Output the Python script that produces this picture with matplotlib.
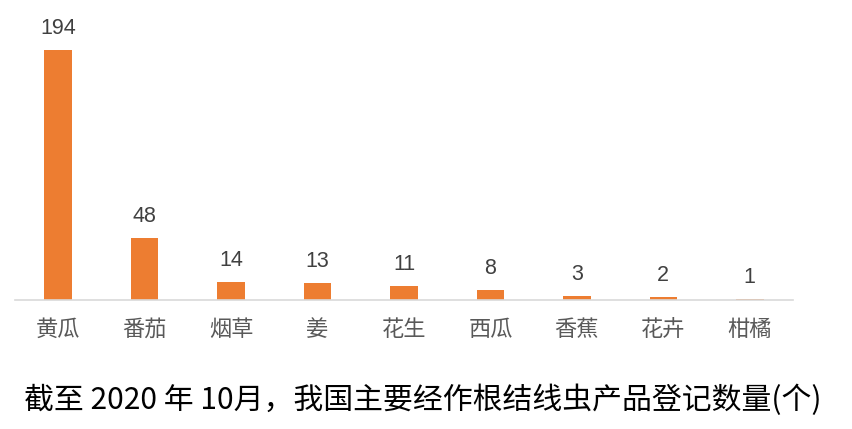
import matplotlib
matplotlib.use('Agg')
import matplotlib.pyplot as plt

plt.rcParams['font.family'] = ['Noto Sans CJK SC', 'DejaVu Sans']

# Registered nematicide products by crop
crops = ['黄瓜', '番茄', '烟草', '姜', '花生', '西瓜', '香蕉', '花卉', '柑橘']
counts = [194, 48, 14, 13, 11, 8, 3, 2, 1]
title = '截至 2020 年 10月，我国主要经作根结线虫产品登记数量(个)'

fig = plt.figure(figsize=(8.52, 4.29), dpi=100)
ax = fig.add_axes([15 / 852, 129 / 429, 778 / 852, 250 / 429])

x = range(len(crops))
bars = ax.bar(x, counts, width=0.32, color='#ED7D31')
ax.set_xlim(-0.5, len(crops) - 0.5)
ax.set_ylim(0, 194)

for b, v in zip(bars, counts):
    ax.annotate(str(v), (b.get_x() + b.get_width() / 2, v),
                xytext=(0, 8), textcoords='offset points',
                ha='center', va='bottom', fontsize=15.5,
                family='Liberation Sans', color='#404040')

for s in ['top', 'right', 'left']:
    ax.spines[s].set_visible(False)
ax.spines['bottom'].set_color('#D9D9D9')
ax.spines['bottom'].set_linewidth(1.2)
ax.set_yticks([])
ax.set_xticks(list(x))
ax.set_xticklabels(crops, fontsize=16, color='#595959', style='italic')
ax.tick_params(axis='x', length=0, pad=13)

fig.text(423 / 852, 1 - 400 / 429, title, ha='center', va='center',
         fontsize=21.5, color='black')

fig.savefig('out.png', dpi=100, facecolor='white')
